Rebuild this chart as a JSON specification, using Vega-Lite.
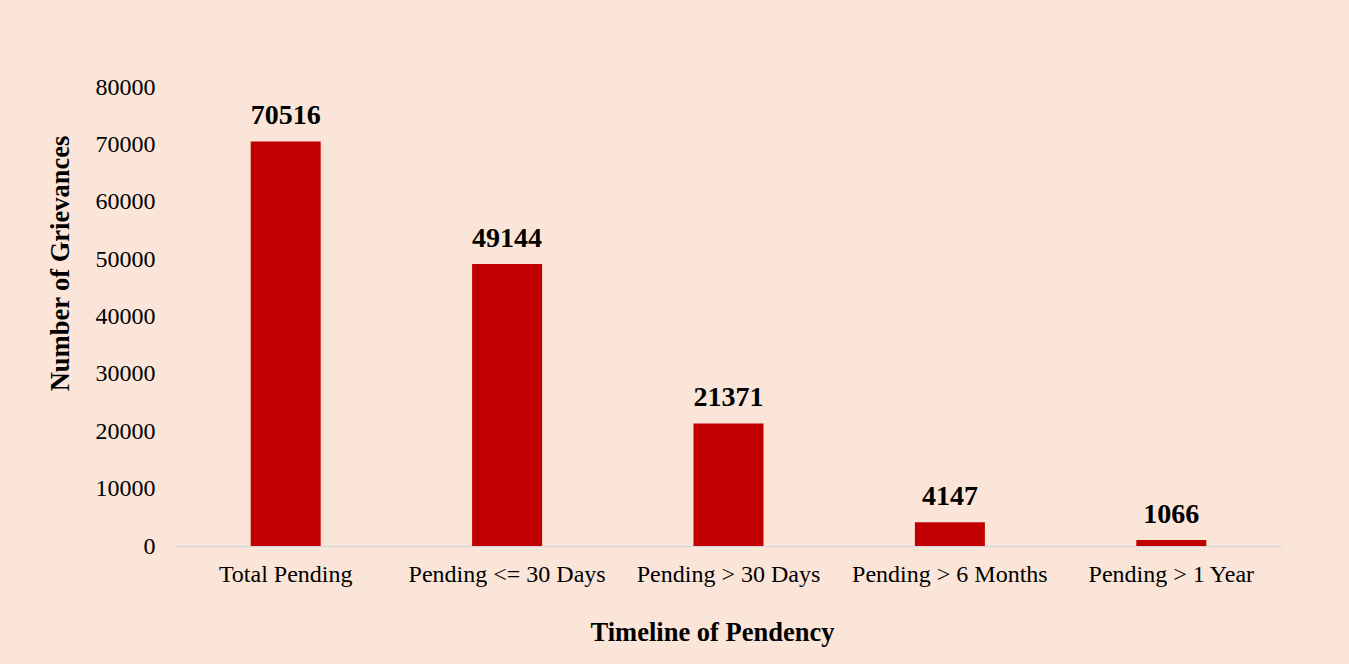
{
  "$schema": "https://vega.github.io/schema/vega-lite/v6.json",
  "autosize": {"type": "none"},
  "padding": {"left": 175, "top": 87, "right": 67, "bottom": 118},
  "width": 1107,
  "height": 459,
  "background": "#FAE5D8",
  "config": {
    "font": "Liberation Serif",
    "view": {"stroke": null}
  },
  "data": {
    "values": [
      {"category": "Total Pending", "value": 70516},
      {"category": "Pending <= 30 Days", "value": 49144},
      {"category": "Pending > 30 Days", "value": 21371},
      {"category": "Pending > 6 Months", "value": 4147},
      {"category": "Pending > 1 Year", "value": 1066}
    ]
  },
  "encoding": {
    "x": {
      "field": "category",
      "type": "nominal",
      "sort": null,
      "scale": {"paddingInner": 0, "paddingOuter": 0},
      "axis": {
        "title": "Timeline of Pendency",
        "titleFont": "Liberation Serif",
        "titleFontSize": 26.5,
        "titleFontWeight": "bold",
        "titleColor": "#000000",
        "titlePadding": 33,
        "titleX": 537,
        "labelAngle": 0,
        "labelFont": "Liberation Serif",
        "labelFontSize": 24,
        "labelColor": "#000000",
        "labelPadding": 16,
        "labelLimit": 0,
        "labelOverlap": false,
        "ticks": false,
        "domainColor": "#D9D9D9",
        "domainWidth": 1.5
      }
    },
    "y": {
      "field": "value",
      "type": "quantitative",
      "scale": {"domain": [0, 80000], "nice": false},
      "axis": {
        "title": "Number of Grievances",
        "titleFont": "Liberation Serif",
        "titleFontSize": 26.5,
        "titleFontWeight": "bold",
        "titleColor": "#000000",
        "titlePadding": 21,
        "titleY": 176,
        "values": [0, 10000, 20000, 30000, 40000, 50000, 60000, 70000, 80000],
        "format": "d",
        "labelFont": "Liberation Serif",
        "labelFontSize": 24,
        "labelColor": "#000000",
        "labelPadding": 20,
        "ticks": false,
        "domain": false,
        "grid": false
      }
    }
  },
  "layer": [
    {
      "mark": {"type": "bar", "size": 70, "color": "#C00000"}
    },
    {
      "mark": {
        "type": "text",
        "baseline": "alphabetic",
        "dy": -17,
        "font": "Liberation Serif",
        "fontSize": 28,
        "fontWeight": "bold",
        "color": "#000000"
      },
      "encoding": {"text": {"field": "value", "type": "quantitative", "format": "d"}}
    }
  ]
}
